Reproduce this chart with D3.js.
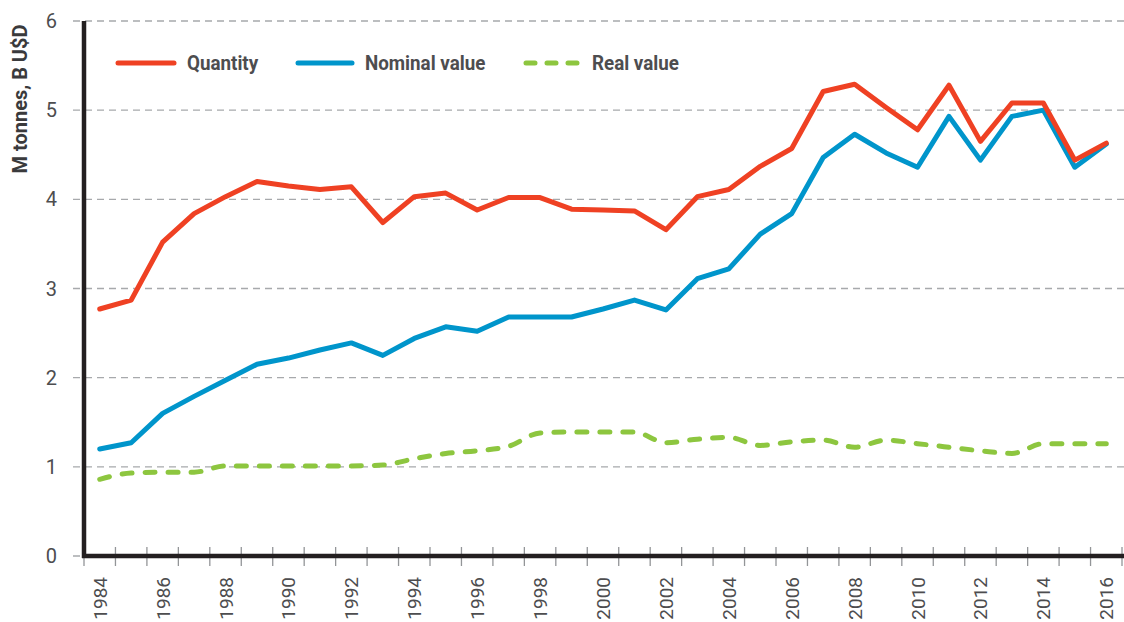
<!DOCTYPE html>
<html>
<head>
<meta charset="utf-8">
<script src="https://cdn.jsdelivr.net/npm/d3@7"></script>
<style>
  body { margin: 0; background: #fff; }
  text { font-family: Roboto, "Open Sans", sans-serif; }
</style>
</head>
<body>
<svg id="chart" width="1124" height="622"></svg>
<script>
const years = d3.range(1984, 2017);

// million tonnes
const quantity = [2.77, 2.87, 3.52, 3.84, 4.03, 4.20, 4.15, 4.11, 4.14, 3.74,
  4.03, 4.07, 3.88, 4.02, 4.02, 3.89, 3.88, 3.87, 3.66, 4.03,
  4.11, 4.37, 4.57, 5.21, 5.29, 5.03, 4.78, 5.28, 4.65, 5.08,
  5.08, 4.44, 4.63];

// billion USD
const nominalValue = [1.20, 1.27, 1.60, 1.79, 1.97, 2.15, 2.22, 2.31, 2.39, 2.25,
  2.44, 2.57, 2.52, 2.68, 2.68, 2.68, 2.77, 2.87, 2.76, 3.11,
  3.22, 3.61, 3.84, 4.47, 4.73, 4.52, 4.36, 4.93, 4.44, 4.93,
  5.00, 4.36, 4.62];

const realValue = [0.86, 0.93, 0.94, 0.94, 1.01, 1.01, 1.01, 1.01, 1.01, 1.02,
  1.09, 1.15, 1.18, 1.23, 1.38, 1.39, 1.39, 1.39, 1.27, 1.31,
  1.33, 1.24, 1.28, 1.30, 1.22, 1.30, 1.26, 1.22, 1.18, 1.15,
  1.26, 1.26, 1.26];

const yTicks = [0, 1, 2, 3, 4, 5, 6];
const xLabels = years.filter(y => y % 2 === 0);

const series = [
  { name: "Real value", values: realValue, color: "#8dc63f", dashed: true },
  { name: "Nominal value", values: nominalValue, color: "#0095cb", dashed: false },
  { name: "Quantity", values: quantity, color: "#ef4123", dashed: false }
];

const svg = d3.select("#chart");

const x = d3.scaleBand().domain(years).range([84, 1122]).padding(0);
const y = d3.scaleLinear().domain([0, 6]).range([556, 21]);
const cx = (yr) => x(yr) + x.bandwidth() / 2;

// horizontal grid
svg.append("g")
  .selectAll("line")
  .data(yTicks)
  .enter()
  .append("line")
  .attr("x1", 73)
  .attr("x2", 1124)
  .attr("y1", d => y(d))
  .attr("y2", d => y(d))
  .attr("stroke", "#a7a9ac")
  .attr("stroke-width", 1.3)
  .attr("stroke-dasharray", "7,5");

// y tick labels
svg.append("g")
  .selectAll("text")
  .data(yTicks)
  .enter()
  .append("text")
  .attr("x", 57)
  .attr("y", d => y(d) + 7)
  .attr("text-anchor", "end")
  .attr("font-size", 20)
  .attr("fill", "#4d4d4f")
  .text(d => d);

// y title
svg.append("text")
  .attr("transform", "translate(27,99) rotate(-90)")
  .attr("text-anchor", "middle")
  .attr("font-size", 20)
  .attr("font-weight", "bold")
  .attr("fill", "#3a3a3c")
  .text("M tonnes, B U$D");

// x tick marks at band edges
const edges = years.map(yr => x(yr)).concat([x(2016) + x.bandwidth()]);
svg.append("g")
  .selectAll("line")
  .data(edges)
  .enter()
  .append("line")
  .attr("x1", d => d)
  .attr("x2", d => d)
  .attr("y1", 547)
  .attr("y2", 566)
  .attr("stroke", "#939598")
  .attr("stroke-width", 1.3);

// x labels
svg.append("g")
  .selectAll("text")
  .data(xLabels)
  .enter()
  .append("text")
  .attr("transform", d => "translate(" + (cx(d) + 7) + ",577) rotate(-90)")
  .attr("text-anchor", "end")
  .attr("font-size", 19)
  .attr("fill", "#4d4d4f")
  .text(d => d);

// series lines
const lineGen = (curved) => d3.line()
  .x((d, i) => cx(years[i]))
  .y(d => y(d))
  .curve(curved ? d3.curveMonotoneX : d3.curveLinear);

series.forEach(s => {
  svg.append("path")
    .datum(s.values)
    .attr("d", lineGen(s.dashed))
    .attr("fill", "none")
    .attr("stroke", s.color)
    .attr("stroke-width", 5)
    .attr("stroke-linejoin", "round")
    .attr("stroke-linecap", "round")
    .attr("stroke-dasharray", s.dashed ? "10,13" : null);
});

// axes
svg.append("line")
  .attr("x1", 84).attr("x2", 84)
  .attr("y1", 21).attr("y2", 558)
  .attr("stroke", "#231f20")
  .attr("stroke-width", 4.5);
svg.append("line")
  .attr("x1", 82).attr("x2", 1124)
  .attr("y1", 556).attr("y2", 556)
  .attr("stroke", "#231f20")
  .attr("stroke-width", 4.5);

// legend
const legendItems = [
  { s: series[2], x1: 118, x2: 174, tx: 187 },
  { s: series[1], x1: 298, x2: 352, tx: 365 },
  { s: series[0], x1: 526, x2: 578, tx: 592 }
];

const legend = svg.append("g").selectAll("g")
  .data(legendItems)
  .enter()
  .append("g");

legend.append("line")
  .attr("x1", d => d.x1)
  .attr("x2", d => d.x2)
  .attr("y1", 63)
  .attr("y2", 63)
  .attr("stroke", d => d.s.color)
  .attr("stroke-width", 5)
  .attr("stroke-linecap", "round")
  .attr("stroke-dasharray", d => d.s.dashed ? "9,12" : null);

legend.append("text")
  .attr("transform", d => "translate(" + d.tx + ",70) scale(0.94,1)")
  .attr("font-size", 20)
  .attr("font-weight", "bold")
  .attr("fill", "#4d4d4f")
  .text(d => d.s.name);
</script>
</body>
</html>
